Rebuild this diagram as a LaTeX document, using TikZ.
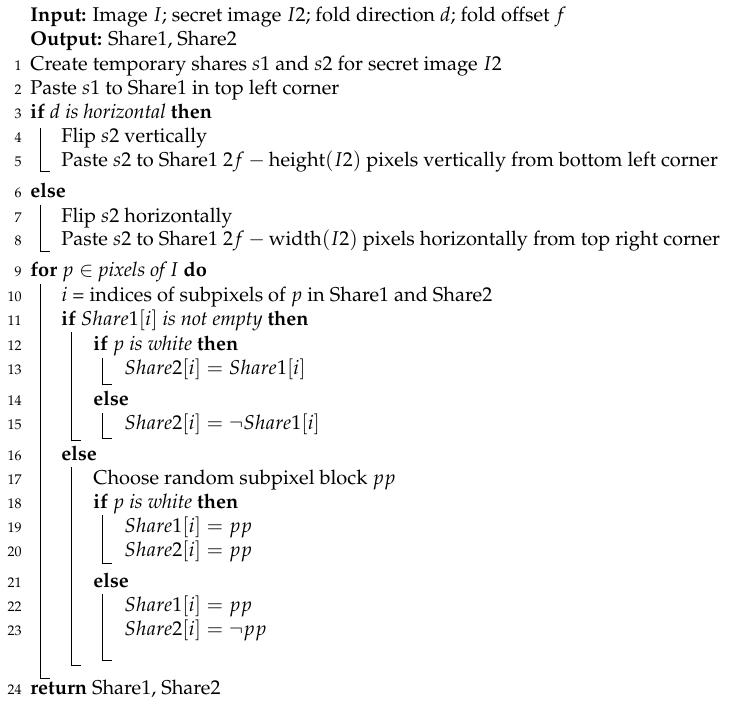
\documentclass[tikz,border=0pt]{standalone}
\usepackage[T1]{fontenc}
\usepackage{mathpazo}
\begin{document}
\begin{tikzpicture}[x=0.5pt,y=-0.5pt,
  t/.style={anchor=base west,inner sep=0pt,font=\normalsize},
  n/.style={anchor=base east,inner sep=0pt,font=\scriptsize},
  bar/.style={line width=0.5pt}]
\useasboundingbox (0,0) rectangle (745,706);
\newcommand{\K}[1]{\textbf{#1}}
\node[t] (in) at (30,22) {\K{Input:} Image $I$; secret image $I2$; fold direction $d$; fold offset $f$};
\node[t] (out) at (30,46) {\K{Output:} Share1, Share2};
\foreach \num/\y/\x/\txt in {
 1/71/30/{Create temporary shares $s1$ and $s2$ for secret image $I2$},
 2/95/30/{Paste $s1$ to Share1 in top left corner},
 3/119/30/{\K{if} \emph{$d$ is horizontal} \K{then}},
 4/143/61/{Flip $s2$ vertically},
 5/167/61/{Paste $s2$ to Share1 $2f-\mathrm{height}(I2)$ pixels vertically from bottom left corner},
 6/198/30/{\K{else}},
 7/222/61/{Flip $s2$ horizontally},
 8/246/61/{Paste $s2$ to Share1 $2f-\mathrm{width}(I2)$ pixels horizontally from top right corner},
 9/277/30/{\K{for} $p\in$ \emph{pixels of $I$} \K{do}},
 10/301/61/{$i$ = indices of subpixels of $p$ in Share1 and Share2},
 11/325/61/{\K{if} \emph{$Share1[i]$ is not empty} \K{then}},
 12/350/93/{\K{if} \emph{$p$ is white} \K{then}},
 13/374/124/{$Share2[i]=Share1[i]$},
 14/405/93/{\K{else}},
 15/429/124/{$Share2[i]=\neg Share1[i]$},
 16/460/61/{\K{else}},
 17/484/93/{Choose random subpixel block $pp$},
 18/508/93/{\K{if} \emph{$p$ is white} \K{then}},
 19/532/124/{$Share1[i]=pp$},
 20/556/124/{$Share2[i]=pp$},
 21/587/93/{\K{else}},
 22/611/124/{$Share1[i]=pp$},
 23/635/124/{$Share2[i]=\neg pp$},
 24/694/30/{\K{return} Share1, Share2}}
{ \node[n] (n\num) at (22,\y) {\num}; \node[t] (l\num) at (\x,\y) {\txt}; }
\foreach \x/\a/\b in {40/128/172, 40/205/251, 40/284/678, 71/332/440, 102/358/384, 102/413/438, 71/467/665, 102/515/563, 102/594/660}
  \draw[bar] (\x,\a) -- (\x,\b) -- (\x+10,\b);
\end{tikzpicture}
\end{document}
